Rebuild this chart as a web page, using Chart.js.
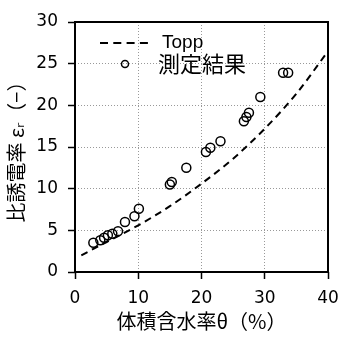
<!DOCTYPE html>
<html>
<head>
<meta charset="utf-8">
<script src="https://cdn.jsdelivr.net/npm/chart.js@4.4.0/dist/chart.umd.min.js"></script>
<style>
  html, body { margin: 0; padding: 0; background: #fff; }
  #wrap { width: 354px; height: 337px; position: relative; }
</style>
</head>
<body>
<div id="wrap"><canvas id="c"></canvas></div>
<script>
// measured points (water content %, relative permittivity)
const measX = [2.9, 4.0, 4.6, 5.2, 5.9, 6.8, 7.9, 9.4, 10.1, 15.0, 15.3, 17.6, 20.7, 21.4, 23.0, 26.7, 27.1, 27.5, 29.3, 32.9, 33.7];
const measY = [3.5, 3.8, 4.1, 4.4, 4.6, 4.9, 6.0, 6.7, 7.6, 10.5, 10.8, 12.5, 14.4, 14.9, 15.7, 18.1, 18.6, 19.1, 21.0, 23.9, 23.9];

// Topp curve
const toppX = [1, 5, 10, 15, 20, 25, 30, 35, 40];
const toppY = [2.0, 3.6, 5.6, 7.9, 10.6, 13.6, 17.2, 21.4, 26.5];

const xTicks = [0, 10, 20, 30, 40];
const yTicks = [0, 5, 10, 15, 20, 25, 30];

const NUM_FONT = '"DejaVu Sans", sans-serif';
const JP_FONT = '"Noto Sans CJK JP", "DejaVu Sans", sans-serif';

const frameAndLegend = {
  id: 'frameAndLegend',
  afterDraw(chart) {
    const { ctx, chartArea: a } = chart;
    ctx.save();
    ctx.strokeStyle = '#000';
    ctx.lineWidth = 2;
    ctx.strokeRect(a.left, a.top, a.right - a.left, a.bottom - a.top);

    // legend
    ctx.setLineDash([8, 5.3]);
    ctx.beginPath();
    ctx.moveTo(a.left + 25, a.top + 21);
    ctx.lineTo(a.left + 73, a.top + 21);
    ctx.stroke();
    ctx.setLineDash([]);
    ctx.lineWidth = 1.5;
    ctx.beginPath();
    ctx.arc(a.left + 50, a.top + 42, 3.5, 0, Math.PI * 2);
    ctx.stroke();
    ctx.fillStyle = '#000';
    ctx.textBaseline = 'middle';
    ctx.textAlign = 'left';
    ctx.font = '19px "Liberation Sans", sans-serif';
    ctx.fillText('Topp', a.left + 87, a.top + 21);
    ctx.font = '22px ' + JP_FONT;
    ctx.fillText('測定結果', a.left + 83, a.top + 42);
    ctx.restore();
  }
};

const gridOpts = {
  display: true,
  drawOnChartArea: true,
  drawTicks: true,
  color: '#999',
  lineWidth: 1,
  tickColor: '#000',
  tickBorderDash: [],
  tickWidth: 1.5,
  tickLength: 7
};

new Chart(document.getElementById('c'), {
  type: 'scatter',
  data: {
    datasets: [
      {
        label: 'Topp',
        type: 'line',
        data: toppX.map((x, i) => ({ x: x, y: toppY[i] })),
        borderColor: '#000',
        borderWidth: 2,
        borderDash: [7, 5],
        pointRadius: 0,
        fill: false,
        cubicInterpolationMode: 'monotone'
      },
      {
        label: '測定結果',
        data: measX.map((x, i) => ({ x: x, y: measY[i] })),
        pointRadius: 4.5,
        pointBorderWidth: 1.5,
        pointBorderColor: '#000',
        pointBackgroundColor: 'rgba(255,255,255,0)'
      }
    ]
  },
  options: {
    responsive: true,
    maintainAspectRatio: false,
    animation: false,
    layout: { padding: { top: 22, right: 26, left: 0, bottom: 0 } },
    plugins: {
      legend: { display: false },
      tooltip: { enabled: false }
    },
    scales: {
      x: {
        type: 'linear',
        min: 0,
        max: 40,
        afterBuildTicks: s => { s.ticks = xTicks.map(v => ({ value: v })); },
        afterFit: s => { s.height = 65; },
        border: { display: false, dash: [1, 2] },
        grid: gridOpts,
        ticks: { color: '#000', font: { family: NUM_FONT, size: 17 }, padding: 9 },
        title: {
          display: true,
          text: '体積含水率θ（%）',
          color: '#000',
          font: { family: JP_FONT, size: 20 },
          padding: { top: 0, bottom: 4 }
        }
      },
      y: {
        type: 'linear',
        min: 0,
        max: 30,
        afterBuildTicks: s => { s.ticks = yTicks.map(v => ({ value: v })); },
        afterFit: s => { s.width = 75; },
        border: { display: false, dash: [1, 2] },
        grid: gridOpts,
        ticks: { color: '#000', font: { family: NUM_FONT, size: 17 }, padding: 10 },
        title: {
          display: true,
          text: '比誘電率 εᵣ（−）',
          color: '#000',
          font: { family: JP_FONT, size: 20 },
          padding: { top: 4, bottom: 0 }
        }
      }
    }
  },
  plugins: [frameAndLegend]
});
</script>
</body>
</html>
